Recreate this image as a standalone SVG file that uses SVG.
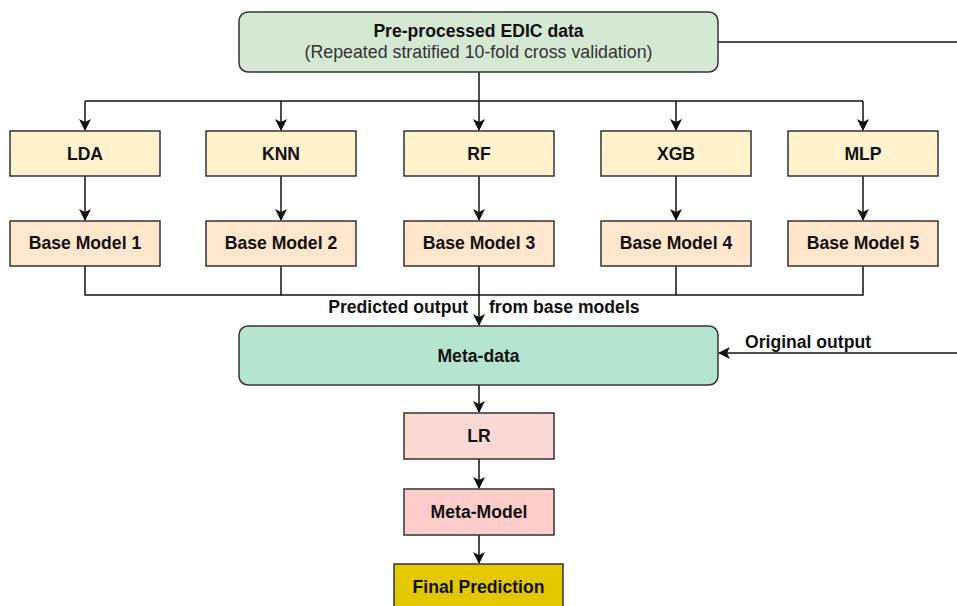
<svg xmlns="http://www.w3.org/2000/svg" width="957" height="606" viewBox="0 0 957 606">
<defs>
<marker id="arr" markerWidth="12" markerHeight="12" refX="11" refY="6" orient="auto" markerUnits="userSpaceOnUse">
<path d="M0,0 L12,6 L0,12 L3,6 Z" fill="#111"/>
</marker>
<style>
.box{stroke:#333;stroke-width:1.5}
.t{font-family:"Liberation Sans",Arial,sans-serif;font-size:17.6px;font-weight:bold;fill:#111;text-anchor:middle}
.tr{font-family:"Liberation Sans",Arial,sans-serif;font-size:17.8px;fill:#333;text-anchor:middle}
.lbl{font-family:"Liberation Sans",Arial,sans-serif;font-size:17.6px;font-weight:bold;fill:#111}
.c{fill:none;stroke:#111;stroke-width:1.5}
</style>
</defs>
<rect width="957" height="606" fill="#fff"/>
<g id="connectors">
<path class="c" d="M718,42 H960"/>
<path class="c" d="M479,72 V101"/>
<path class="c" d="M85,101 H863"/>
<path class="c" d="M85,101 V130" marker-end="url(#arr)"/>
<path class="c" d="M281,101 V130" marker-end="url(#arr)"/>
<path class="c" d="M479,101 V130" marker-end="url(#arr)"/>
<path class="c" d="M676,101 V130" marker-end="url(#arr)"/>
<path class="c" d="M863,101 V130" marker-end="url(#arr)"/>
<path class="c" d="M85,176 V220" marker-end="url(#arr)"/>
<path class="c" d="M281,176 V220" marker-end="url(#arr)"/>
<path class="c" d="M479,176 V220" marker-end="url(#arr)"/>
<path class="c" d="M676,176 V220" marker-end="url(#arr)"/>
<path class="c" d="M863,176 V220" marker-end="url(#arr)"/>
<path class="c" d="M85,266 V295 H863 V266"/>
<path class="c" d="M676,266 V295"/>
<path class="c" d="M281,266 V295"/>
<path class="c" d="M479,266 V325" marker-end="url(#arr)"/>
<path class="c" d="M960,353 H719" marker-end="url(#arr)"/>
<path class="c" d="M479,385 V412" marker-end="url(#arr)"/>
<path class="c" d="M479,459 V488" marker-end="url(#arr)"/>
<path class="c" d="M479,535 V563" marker-end="url(#arr)"/>
<text class="lbl" x="468" y="313" text-anchor="end">Predicted output</text>
<text class="lbl" x="489" y="313">from base models</text>
<text class="lbl" x="745" y="348">Original output</text>
</g>
<g id="top">
<rect class="box" x="239" y="12" width="479" height="60" rx="9" fill="#d5e8d4"/>
<text class="t" x="478.5" y="37">Pre-processed EDIC data</text>
<text class="tr" x="478.5" y="58">(Repeated stratified 10-fold cross validation)</text>
</g>
<g id="lda"><rect class="box" x="10" y="131" width="150" height="45" fill="#fff2cc"/><text class="t" x="85" y="160">LDA</text></g>
<g id="knn"><rect class="box" x="206" y="131" width="150" height="45" fill="#fff2cc"/><text class="t" x="281" y="160">KNN</text></g>
<g id="rf"><rect class="box" x="404" y="131" width="150" height="45" fill="#fff2cc"/><text class="t" x="479" y="160">RF</text></g>
<g id="xgb"><rect class="box" x="601" y="131" width="150" height="45" fill="#fff2cc"/><text class="t" x="676" y="160">XGB</text></g>
<g id="mlp"><rect class="box" x="788" y="131" width="150" height="45" fill="#fff2cc"/><text class="t" x="863" y="160">MLP</text></g>
<g id="bm1"><rect class="box" x="10" y="221" width="150" height="45" fill="#ffe6cc"/><text class="t" x="85" y="249">Base Model 1</text></g>
<g id="bm2"><rect class="box" x="206" y="221" width="150" height="45" fill="#ffe6cc"/><text class="t" x="281" y="249">Base Model 2</text></g>
<g id="bm3"><rect class="box" x="404" y="221" width="150" height="45" fill="#ffe6cc"/><text class="t" x="479" y="249">Base Model 3</text></g>
<g id="bm4"><rect class="box" x="601" y="221" width="150" height="45" fill="#ffe6cc"/><text class="t" x="676" y="249">Base Model 4</text></g>
<g id="bm5"><rect class="box" x="788" y="221" width="150" height="45" fill="#ffe6cc"/><text class="t" x="863" y="249">Base Model 5</text></g>
<g id="meta-data"><rect class="box" x="239" y="326" width="479" height="59" rx="9" fill="#b5e5d0"/><text class="t" x="478.5" y="362">Meta-data</text></g>
<g id="lr"><rect class="box" x="404" y="413" width="150" height="46" fill="#fad9d5"/><text class="t" x="479" y="442">LR</text></g>
<g id="meta-model"><rect class="box" x="404" y="489" width="150" height="46" fill="#ffcccc"/><text class="t" x="479" y="518">Meta-Model</text></g>
<g id="final"><rect class="box" x="394" y="564" width="169" height="50" fill="#e3c800"/><text class="t" x="478.5" y="593">Final Prediction</text></g>
</svg>
